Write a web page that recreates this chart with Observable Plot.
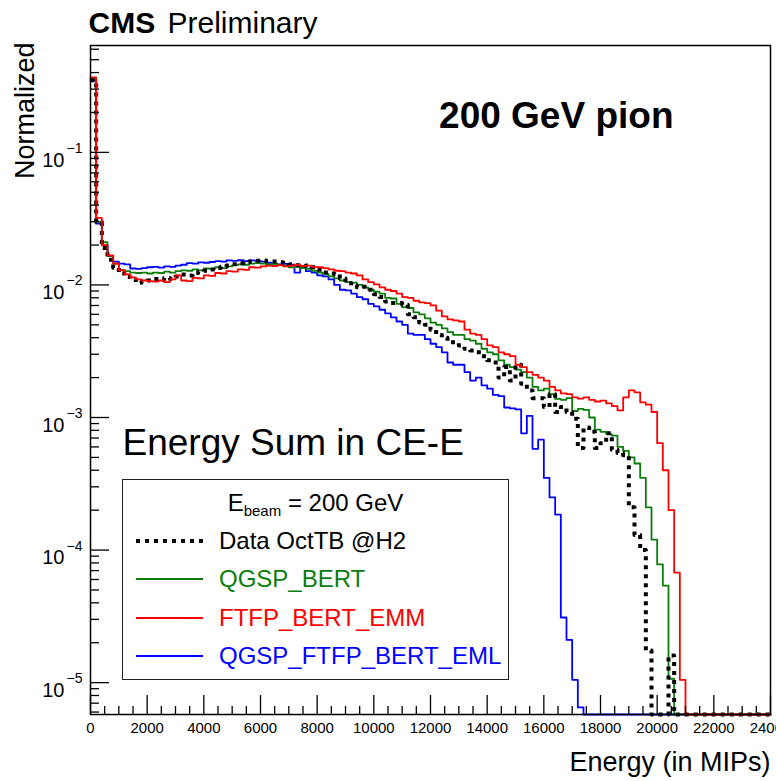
<!DOCTYPE html>
<html>
<head>
<meta charset="utf-8">
<script src="https://cdn.jsdelivr.net/npm/d3@7"></script>
<script src="https://cdn.jsdelivr.net/npm/@observablehq/plot@0.6"></script>
<style>
  html, body { margin: 0; padding: 0; background: #fff; overflow: hidden; }
  #wrap { position: relative; width: 776px; height: 781px; font-family: "Liberation Sans", Arial, Helvetica, sans-serif; }
  #legend { position: absolute; left: 122px; top: 479px; width: 387px; height: 201px; box-sizing: border-box;
            border: 1.6px solid #222; background: #fff; font-size: 24px; }
  #legend .row { position: absolute; left: 0; width: 100%; height: 30px; line-height: 30px; white-space: nowrap; }
  #legend .hdr { text-align: center; }
  #legend .hdr sub { font-size: 15px; vertical-align: -5px; line-height: 0; }
  #legend svg { position: absolute; left: 13px; top: 0; }
  #legend .label { position: absolute; left: 96px; top: 0; }
</style>
</head>
<body>
<div id="wrap"></div>
<script>
// Energy sum in CE-E for 200 GeV pions, normalized histograms, 200-MIP bins from 0 to 24000.
const BIN_WIDTH = 200;

const dataOctTB = [
  0.35, 0.0298, 0.019, 0.0155, 0.0135, 0.0122, 0.0115, 0.0110, 0.0104, 0.0106,
  0.0108, 0.0111, 0.0109, 0.0113, 0.0111, 0.0116, 0.0120, 0.0118, 0.0123, 0.0126,
  0.0128, 0.0131, 0.0134, 0.0137, 0.0140, 0.0143, 0.0146, 0.0148, 0.0150, 0.0152,
  0.0153, 0.0151, 0.0150, 0.0148, 0.0146, 0.0143, 0.0141, 0.0139, 0.0140, 0.0136,
  0.0130, 0.0124, 0.0122, 0.0121, 0.0112, 0.0103, 0.0099, 0.0096, 0.0097, 0.0092,
  0.0085, 0.0081, 0.0075, 0.0073, 0.0073, 0.0071, 0.0060, 0.0057, 0.0052, 0.0050,
  0.0046, 0.0042, 0.0040, 0.0037, 0.0037, 0.0035, 0.0033, 0.0032, 0.0031, 0.0029,
  0.0027, 0.0026, 0.0020, 0.0024, 0.0019, 0.0025, 0.0018, 0.0016, 0.0014, 0.0014,
  0.0012, 0.0015, 0.0011, 0.0012, 0.0011, 0.00098, 0.00059, 0.00084, 0.00078, 0.00059,
  0.00064, 0.00076, 0.00057, 0.00054, 0.00052, 0.00021, 0.00013, 0.00010, 0.0000175, 0,
  0, 0, 0.000016, 0, 0, 0, 0, 0, 0, 0,
  0, 0, 0, 0, 0, 0, 0, 0, 0, 0
];

const qgspBert = [
  0.36, 0.030, 0.021, 0.0165, 0.0145, 0.0130, 0.0127, 0.0124, 0.0123, 0.0124,
  0.0122, 0.0124, 0.0123, 0.0126, 0.0124, 0.0127, 0.0129, 0.0128, 0.0131, 0.0129,
  0.0133, 0.0132, 0.0136, 0.0134, 0.0138, 0.0141, 0.0143, 0.0142, 0.0145, 0.0146,
  0.0145, 0.0143, 0.0144, 0.0141, 0.0140, 0.0136, 0.0137, 0.0134, 0.0132, 0.0128,
  0.0124, 0.0121, 0.0116, 0.0112, 0.0108, 0.0105, 0.0104, 0.0100, 0.0096, 0.0092,
  0.0089, 0.0086, 0.0080, 0.0079, 0.0072, 0.0068, 0.0067, 0.0062, 0.0060, 0.0056,
  0.0052, 0.0050, 0.0047, 0.0044, 0.0042, 0.0042, 0.0039, 0.0038, 0.0036, 0.0033,
  0.0031, 0.0030, 0.0027, 0.0025, 0.0024, 0.0023, 0.0022, 0.0020, 0.0017, 0.0016,
  0.00165, 0.0015, 0.00138, 0.00136, 0.00140, 0.00112, 0.00116, 0.00114, 0.00100, 0.00081,
  0.00078, 0.00075, 0.00073, 0.00060, 0.00056, 0.00050, 0.00045, 0.00035, 0.00021, 0.00012,
  0.000078, 0.000054, 0.0000107, 0, 0, 0, 0, 0, 0, 0,
  0, 0, 0, 0, 0, 0, 0, 0, 0, 0
];

const ftfpBertEmm = [
  0.368, 0.032, 0.020, 0.0167, 0.0145, 0.0129, 0.0120, 0.0114, 0.0110, 0.0108,
  0.0107, 0.0106, 0.0108, 0.0105, 0.0110, 0.0118, 0.0108, 0.0107, 0.0113, 0.0112,
  0.0118, 0.0117, 0.0123, 0.0122, 0.0127, 0.0126, 0.0131, 0.0130, 0.0136, 0.0135,
  0.0138, 0.0140, 0.0139, 0.0141, 0.0138, 0.0140, 0.0142, 0.0139, 0.0140, 0.0137,
  0.0136, 0.0134, 0.0131, 0.0128, 0.0127, 0.0124, 0.0122, 0.0118, 0.0110, 0.0105,
  0.0101, 0.0096, 0.0092, 0.0090, 0.0086, 0.0081, 0.0080, 0.0076, 0.0074, 0.0073,
  0.0070, 0.0064, 0.0058, 0.0055, 0.0054, 0.0053, 0.0046, 0.0043, 0.0042, 0.0039,
  0.0035, 0.0034, 0.0031, 0.0030, 0.0029, 0.0025, 0.0024, 0.0022, 0.0021, 0.0020,
  0.0019, 0.0017, 0.0016, 0.00152, 0.0015, 0.00142, 0.00139, 0.00142, 0.00136, 0.00132,
  0.00134, 0.00128, 0.00122, 0.00113, 0.00142, 0.0016, 0.00155, 0.0013, 0.00125, 0.0011,
  0.00064, 0.0004, 0.0002, 0.0000677, 0.0000105, 0, 0, 0, 0, 0,
  0, 0, 0, 0, 0, 0, 0, 0, 0, 0
];

const qgspFtfpBertEml = [
  0.35, 0.029, 0.020, 0.0165, 0.0150, 0.0145, 0.0143, 0.0133, 0.0132, 0.0134,
  0.0136, 0.0137, 0.0135, 0.0138, 0.0137, 0.0140, 0.0142, 0.0146, 0.0145, 0.0148,
  0.0147, 0.0149, 0.0151, 0.0150, 0.0153, 0.0152, 0.0154, 0.0151, 0.0153, 0.0152,
  0.0150, 0.0147, 0.0145, 0.0143, 0.0144, 0.0142, 0.0124, 0.0136, 0.0127, 0.0124,
  0.0118, 0.0116, 0.0110, 0.0100, 0.0092, 0.0091, 0.0086, 0.0081, 0.0078, 0.0072,
  0.0069, 0.0065, 0.0061, 0.0057, 0.0053, 0.0050, 0.0043, 0.0042, 0.0042, 0.0039,
  0.0036, 0.0034, 0.0031, 0.0026, 0.0025, 0.0025, 0.0022, 0.0019, 0.0020, 0.00175,
  0.00165, 0.00148, 0.00145, 0.00119, 0.00117, 0.00115, 0.00076, 0.00103, 0.00058, 0.00068,
  0.00035, 0.00025, 0.000185, 0.000031, 0.000021, 0.0000105, 0.0000065, 0, 0, 0,
  0, 0, 0, 0, 0, 0, 0, 0, 0, 0,
  0, 0, 0, 0, 0, 0, 0, 0, 0, 0,
  0, 0, 0, 0, 0, 0, 0, 0, 0, 0
];

const seriesNames = ["Data OctTB @H2", "QGSP_BERT", "FTFP_BERT_EMM", "QGSP_FTFP_BERT_EML"];
const seriesColors = ["#000000", "#0b7d0b", "#ff0000", "#0000ff"];

const xMajorTicks = [0, 2000, 4000, 6000, 8000, 10000, 12000, 14000, 16000, 18000, 20000, 22000, 24000];
const yMajorTicks = [1e-5, 1e-4, 1e-3, 1e-2, 1e-1];
const yExponents = ["−5", "−4", "−3", "−2", "−1"];

const X_DOMAIN = [0, 24000];
const Y_DOMAIN = [5.75e-6, 0.64];

// layout
const WIDTH = 776, HEIGHT = 781;
const M = {top: 45, right: 6, bottom: 67, left: 90};
const FRAME_W = WIDTH - M.left - M.right;
const FRAME_H = HEIGHT - M.top - M.bottom;

// minor ticks: every 500 MIPs on x, 2..9 per decade on y
const xMinorTicks = d3.range(0, 24001, 500).filter(v => v % 2000 !== 0);
const yMinorTicks = [];
for (let e = -6; e <= 0; e++) for (let m = 2; m <= 9; m++) {
  const v = m * Math.pow(10, e);
  if (v > Y_DOMAIN[0] && v < Y_DOMAIN[1]) yMinorTicks.push(v);
}

// histogram outline: one point per lower bin edge plus the closing edge; empty bins sit on the floor
function stepRows(values) {
  const rows = values.map((v, i) => ({x: i * BIN_WIDTH, y: Math.max(v, Y_DOMAIN[0])}));
  rows.push({x: values.length * BIN_WIDTH, y: rows[rows.length - 1].y});
  return rows;
}

const font = '"Liberation Sans", Arial, Helvetica, sans-serif';

const chart = Plot.plot({
  width: WIDTH,
  height: HEIGHT,
  marginTop: M.top, marginRight: M.right, marginBottom: M.bottom, marginLeft: M.left,
  style: {fontFamily: font, background: "#fff", overflow: "visible"},
  x: {domain: X_DOMAIN, axis: null},
  y: {type: "log", domain: Y_DOMAIN, axis: null},
  marks: [
    // histograms
    Plot.line(stepRows(qgspFtfpBertEml), {x: "x", y: "y", curve: "step-after", stroke: seriesColors[3], strokeWidth: 1.8}),
    Plot.line(stepRows(qgspBert), {x: "x", y: "y", curve: "step-after", stroke: seriesColors[1], strokeWidth: 1.8}),
    Plot.line(stepRows(dataOctTB), {x: "x", y: "y", curve: "step-after", stroke: seriesColors[0], strokeWidth: 4, strokeDasharray: "4 5", strokeLinecap: "butt"}),
    Plot.line(stepRows(ftfpBertEmm), {x: "x", y: "y", curve: "step-after", stroke: seriesColors[2], strokeWidth: 1.8}),

    // frame and inward ticks
    Plot.frame({stroke: "#000", strokeWidth: 1.5}),
    Plot.tickX(xMinorTicks, {x: d => d, insetTop: FRAME_H - 8, stroke: "#000", strokeWidth: 1.3}),
    Plot.tickX(xMajorTicks, {x: d => d, insetTop: FRAME_H - 19, stroke: "#000", strokeWidth: 1.3}),
    Plot.tickY(yMinorTicks, {y: d => d, insetRight: FRAME_W - 9, stroke: "#000", strokeWidth: 1.3}),
    Plot.tickY(yMajorTicks, {y: d => d, insetRight: FRAME_W - 19, stroke: "#000", strokeWidth: 1.3}),

    // tick labels
    Plot.text(xMajorTicks, {x: d => d, frameAnchor: "bottom", dy: 18, text: d => String(d), fontSize: 15}),
    Plot.text(yMajorTicks, {y: d => d, frameAnchor: "left", dx: -26, dy: 8, text: () => "10", textAnchor: "end", fontSize: 20}),
    Plot.text(yMajorTicks, {y: d => d, frameAnchor: "left", dx: -24, dy: -4, text: (d, i) => yExponents[i], textAnchor: "start", fontSize: 14}),

    // axis titles
    Plot.text(["Normalized"], {frameAnchor: "top-left", dx: -76, dy: -3, rotate: -90, textAnchor: "end", text: d => d, fontSize: 27}),
    Plot.text(["Energy (in MIPs)"], {frameAnchor: "bottom-right", dx: 0, dy: 56, textAnchor: "end", text: d => d, fontSize: 27}),

    // header and annotations
    Plot.text(["CMS"], {frameAnchor: "top-left", dx: -2, dy: -34, textAnchor: "start", text: d => d, fontSize: 30, fontWeight: "bold"}),
    Plot.text(["Preliminary"], {frameAnchor: "top-left", dx: 77, dy: -34, textAnchor: "start", text: d => d, fontSize: 30}),
    Plot.text(["200 GeV pion"], {frameAnchor: "top-right", dx: -97, dy: 56, textAnchor: "end", text: d => d, fontSize: 37, fontWeight: "bold"}),
    Plot.text(["Energy Sum in CE-E"], {frameAnchor: "top-left", dx: 32, dy: 383, textAnchor: "start", text: d => d, fontSize: 37})
  ]
});

const wrap = document.getElementById("wrap");
wrap.appendChild(chart);

// legend box
const legend = document.createElement("div");
legend.id = "legend";
const header = document.createElement("div");
header.className = "row hdr";
header.style.top = (23 - 15) + "px";
header.innerHTML = "E<sub>beam</sub> = 200 GeV";
legend.appendChild(header);

const rowCenters = [61, 99, 138, 176];
seriesNames.forEach((name, i) => {
  const row = document.createElement("div");
  row.className = "row";
  row.style.top = (rowCenters[i] - 15) + "px";
  const dotted = i === 0;
  row.innerHTML =
    `<svg width="70" height="30"><line x1="0" x2="67" y1="15" y2="15" stroke="${seriesColors[i]}" ` +
    `stroke-width="${dotted ? 4 : 1.8}" ${dotted ? 'stroke-dasharray="4 5"' : ""}/></svg>` +
    `<span class="label" style="color:${seriesColors[i]}">${name}</span>`;
  legend.appendChild(row);
});
wrap.appendChild(legend);
</script>
</body>
</html>
